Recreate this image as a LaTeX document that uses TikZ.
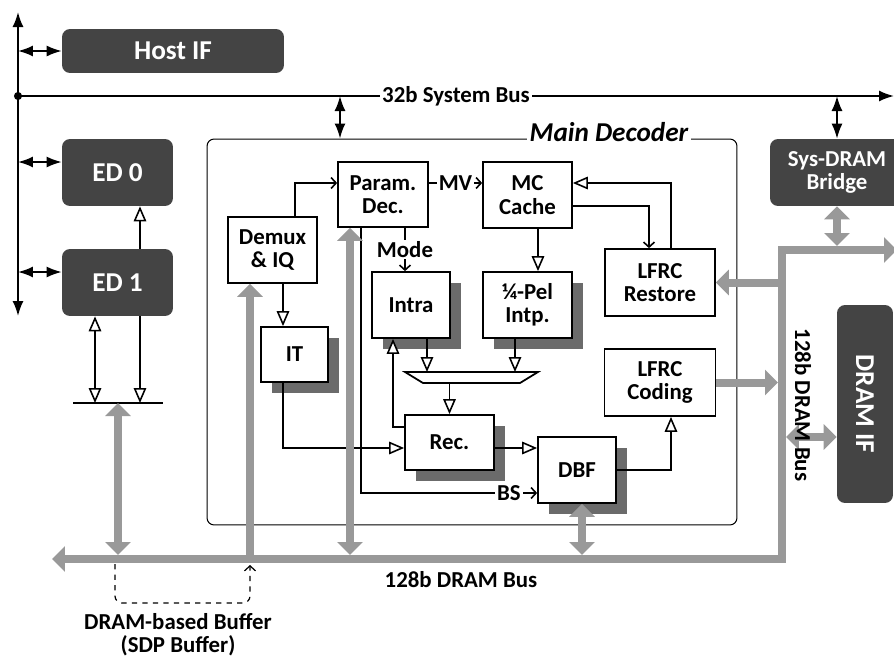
\documentclass[tikz,border=0pt]{standalone}
\usepackage{fontspec}
\setmainfont{Carlito}
\usetikzlibrary{arrows.meta, shadows}
\definecolor{Block}{HTML}{444444}
\definecolor{Shade}{HTML}{6B6B6B}
\definecolor{Bus}{HTML}{999999}

\begin{document}
\begin{tikzpicture}[
  x=0.02cm, y=-0.02cm,
  font=\fontsize{13}{13.3}\selectfont\bfseries,
  darkbox/.style={
    rounded corners=0.16cm,
    fill=Block,
    text=white,
    align=center,
    inner sep=0pt,
    font=\fontsize{15.5}{16}\selectfont\bfseries
  },
  blk/.style={
    draw,
    line width=1pt,
    fill=white,
    align=center,
    inner sep=0pt
  },
  shade/.style={
    drop shadow={shadow xshift=0.22cm, shadow yshift=-0.22cm, fill=Shade, opacity=1}
  },
  decoder/.style={
    draw,
    line width=0.6pt,
    rounded corners=0.14cm,
    inner sep=0pt
  },
  link/.style={line width=0.9pt, -{Straight Barb[length=0.1cm,width=0.22cm]}},
  flow/.style={line width=0.9pt, -{Triangle[length=0.3cm,width=0.25cm,fill=white]}},
  flow2/.style={line width=0.9pt,
    {Triangle[length=0.3cm,width=0.25cm,fill=white]}-{Triangle[length=0.3cm,width=0.25cm,fill=white]}},
  sysarr/.style={line width=1pt, {Latex[length=0.3cm,width=0.22cm]}-{Latex[length=0.3cm,width=0.22cm]}},
  bus/.style={draw=Bus, line width=0.16cm},
  busarr/.style={bus, -{Triangle[length=0.26cm,width=0.5cm]}},
  busarr2/.style={bus, {Triangle[length=0.26cm,width=0.5cm]}-{Triangle[length=0.26cm,width=0.5cm]}}
]

\useasboundingbox (0,0) rectangle (894,660);
\clip (0,0) rectangle (894,660);

% system side
\coordinate (vtop) at (18,12);
\coordinate (vbot) at (18,316);
\coordinate (busL) at (18,96);
\coordinate (busR) at (894,96);

\node[darkbox, minimum width=4.44cm, minimum height=0.88cm] (host) at (173,51) {Host IF};
\node[darkbox, minimum width=2.22cm, minimum height=1.34cm] (ed0) at (117.5,172.5) {ED 0};
\node[darkbox, minimum width=2.22cm, minimum height=1.34cm] (ed1) at (117.5,282.5) {ED 1};
\node[darkbox, font=\fontsize{13}{13.3}\selectfont\bfseries,
  minimum width=2.68cm, minimum height=1.34cm] (bridge) at (837,172.5) {Sys-DRAM\\Bridge};
\node[darkbox, minimum width=1.12cm, minimum height=3.96cm] (dramif) at (865,404) {\rotatebox{-90}{DRAM IF}};

\draw[sysarr] (vbot) -- (vtop);
\fill (busL) circle[radius=2.3pt];
\draw[line width=1pt, -{Latex[length=0.3cm,width=0.22cm]}] (busL) --
  node[fill=white, inner sep=1pt] (sysbus) {32b System Bus} (busR);

\coordinate (ed0tap) at ([yshift=0.21cm]ed0.west);
\coordinate (ed1tap) at ([yshift=0.21cm]ed1.west);
\draw[sysarr] (vtop |- host.west) -- (host.west);
\draw[sysarr] (vtop |- ed0tap) -- (ed0tap);
\draw[sysarr] (vtop |- ed1tap) -- (ed1tap);

\draw[flow] ([xshift=0.45cm]ed1.north) -- ([xshift=0.45cm]ed0.south);

\coordinate (barL) at (73,403);
\coordinate (barR) at (163,403);
\coordinate (edtap) at (118,403);
\coordinate (ed1a) at ([xshift=-0.45cm]ed1.south);
\coordinate (ed1b) at ([xshift=0.45cm]ed1.south);
\draw[line width=0.9pt] (barL) -- (barR);
\draw[flow2] (ed1a) -- (ed1a |- barL);
\draw[flow] (ed1b) -- (ed1b |- barL);

% main decoder
\node[decoder, minimum width=10.6cm, minimum height=7.72cm] (dec) at (472,332) {};
\node[fill=white, inner sep=1.5pt, anchor=base, font=\fontsize{15.5}{16}\selectfont\bfseries\itshape]
  (declbl) at (609,141) {Main Decoder};

\coordinate (dectap) at (340,96);
\draw[sysarr] (dectap) -- (dectap |- dec.north);
\draw[sysarr] (bridge.north |- busL) -- (bridge.north);

\node[blk, minimum width=1.78cm, minimum height=1.32cm] (demux) at (272.5,250) {Demux\\\& IQ};
\node[blk, minimum width=1.8cm, minimum height=1.3cm] (param) at (383,194.5) {Param.\\Dec.};
\node[blk, minimum width=1.78cm, minimum height=1.32cm] (mc) at (527.5,195) {MC\\Cache};
\node[blk, shade, minimum width=1.56cm, minimum height=1.32cm] (intra) at (411,305) {Intra};
\node[blk, shade, minimum width=1.78cm, minimum height=1.32cm] (qpel) at (527.5,305) {¼-Pel\\Intp.};
\node[blk, shade, minimum width=1.34cm, minimum height=1.1cm] (it) at (294.5,354.5) {IT};
\node[blk, minimum width=2.2cm, minimum height=1.34cm] (restore) at (660,282.5) {LFRC\\Restore};
\node[blk, minimum width=2.22cm, minimum height=1.34cm] (coding) at (660,382.5) {LFRC\\Coding};
\node[blk, shade, minimum width=1.78cm, minimum height=1.1cm] (rec) at (449.5,442.5) {Rec.};
\node[blk, shade, minimum width=1.56cm, minimum height=1.32cm] (dbf) at (577,470) {DBF};

% mux
\coordinate (muxT) at (471.5,372);
\coordinate (muxB) at (471.5,383);
\draw[line width=1pt, fill=white] (405,372) -- (538,372) -- (520,383) -- (423,383) -- cycle;

\draw[link] ([xshift=0.45cm]demux.north) |- ([yshift=0.23cm]param.west);
\draw[link] ([yshift=0.23cm]param.east) -- node[fill=white, inner sep=1pt] (mv) {MV}
  ([yshift=0.23cm]param.east -| mc.west);
\coordinate (modetap) at ([xshift=0.44cm]param.south);
\draw[link] (modetap) -- node[fill=white, inner sep=1pt] (mode) {Mode} (modetap |- intra.north);
\draw[link] ([xshift=-0.44cm]param.south) |- node[pos=0.92, fill=white, inner sep=1pt] (bs) {BS}
  ([yshift=-0.46cm]dbf.west);

\coordinate (dmxout) at ([xshift=0.21cm]demux.south);
\draw[flow] (dmxout) -- (dmxout |- it.north);
\draw[flow] (dmxout |- it.south) |- ([yshift=-0.11cm]rec.west);
\draw[flow] ([yshift=-0.11cm]rec.east) -- ([yshift=-0.11cm]rec.east -| dbf.west);
\draw[flow] ([yshift=0.31cm]rec.west) -| ([xshift=-0.36cm]intra.south);
\coordinate (intraout) at ([xshift=0.32cm]intra.south);
\coordinate (qpelout) at ([xshift=-0.25cm]qpel.south);
\draw[flow] (intraout) -- (intraout |- muxT);
\draw[flow] (qpelout) -- (qpelout |- muxT);
\draw[flow] (muxB -| rec.north) -- (rec.north);
\coordinate (mcout) at ([xshift=0.21cm]mc.south);
\draw[flow] (mcout) -- (mcout |- qpel.north);
\draw[link] ([yshift=-0.22cm]mc.east) -| ([xshift=-0.22cm]restore.north);
\draw[flow] ([xshift=0.22cm]restore.north) |- ([yshift=0.24cm]mc.east);
\draw[flow] (dbf.east) -| ([xshift=0.22cm]coding.south);

% DRAM bus
\coordinate (bL) at (52,559);
\coordinate (bC) at (782,559);
\coordinate (bT) at (782,250);
\coordinate (bR) at (897,250);
\draw[bus, {Triangle[length=0.26cm,width=0.5cm]}-{Triangle[length=0.26cm,width=0.5cm]}]
  (bL) -- (bC) -- (bT) -- (bR);

\draw[busarr2, shorten >=0.08cm] (edtap) -- (edtap |- bL);
\coordinate (dmxtap) at ([xshift=-0.45cm]demux.south);
\draw[busarr] (dmxtap |- bL) -- (dmxtap);
\coordinate (partap) at ([xshift=-0.66cm]param.south);
\draw[busarr2, shorten >=0.08cm] (partap) -- (partap |- bL);
\coordinate (dbftap) at ([xshift=0.1cm]dbf.south);
\draw[busarr2, shorten >=0.08cm] (dbftap) -- (dbftap |- bL);
\draw[busarr, shorten >=0.08cm] (coding.east) -- (coding.east -| bC);
\draw[busarr] (restore.east -| bC) -- (restore.east);
\coordinate (dramtap) at ([yshift=-0.66cm]dramif.west);
\draw[busarr2, shorten <=0.08cm] (dramtap -| bC) -- (dramtap);
\draw[busarr2, shorten >=0.08cm] (bridge.south) -- (bridge.south |- bT);

\node[rotate=-90] (vbuslbl) at (803,405) {128b DRAM Bus};
\node (hbuslbl) at (461,580) {128b DRAM Bus};

% SDP buffer
\coordinate (sdpA) at (115,564);
\coordinate (sdpB) at (250,565);
\draw[line width=0.7pt, dashed, rounded corners=0.14cm, -{Straight Barb[length=0.1cm,width=0.22cm]}]
  (sdpA) -- ++(0,39) -| (sdpB);
\node[align=center] (sdp) at (178,635) {DRAM-based Buffer\\(SDP Buffer)};

\end{tikzpicture}
\end{document}
